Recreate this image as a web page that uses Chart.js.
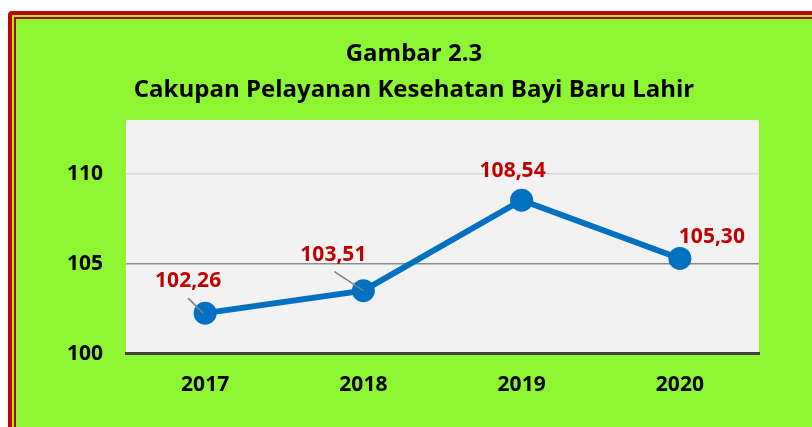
<!DOCTYPE html>
<html>
<head>
<meta charset="utf-8">
<script src="https://cdn.jsdelivr.net/npm/chart.js@4.4.1/dist/chart.umd.min.js"></script>
<style>
  html, body { margin: 0; padding: 0; background: #fff; overflow: hidden; width: 812px; height: 427px; }
  #frame {
    position: absolute; left: 8px; top: 11px; width: 900px; height: 500px;
    border: 4px solid #c00000; border-radius: 4px; background: #8df531;
  }
  #frame-inner {
    position: absolute; left: 2px; top: 2px; right: 2px; bottom: 2px;
    border: 2px solid #c00000;
  }
  #wrap { position: absolute; left: 0; top: 0; width: 812px; height: 427px; }
</style>
</head>
<body>
<div id="frame"><div id="frame-inner"></div></div>
<div id="wrap"><canvas id="chart-canvas"></canvas></div>
<script>
let years = ["2017", "2018", "2019", "2020"];
let coverage = [102.26, 103.51, 108.54, 105.30];
let valueLabels = ["102,26", "103,51", "108,54", "105,30"];
let titleLines = ["Gambar 2.3", "Cakupan Pelayanan Kesehatan Bayi Baru Lahir"];

const FONT = "'Open Sans', 'DejaVu Sans', sans-serif";

// label placement around each point
const labelPos = [
    { dx: -17, dy: -32, leader: [-17, -15, -2, 0] },
    { dx: -30, dy: -36, leader: [-29, -19, 0, 0] },
    { dx: -9, dy: -29 },
    { dx: 32, dy: -21 },
];

const plotBg = {
    id: "plotBg",
    beforeDraw(chart) {
        const { ctx, chartArea: a } = chart;
        ctx.save();
        ctx.fillStyle = "#f2f2f2";
        ctx.fillRect(a.left, a.top, a.right - a.left, a.bottom - a.top);
        ctx.restore();
    },
};

// title is centred on the whole figure, not on the canvas box, so draw it here
const figTitle = {
    id: "figTitle",
    afterDraw(chart) {
        const ctx = chart.ctx;
        ctx.save();
        ctx.fillStyle = "#000";
        ctx.font = "bold 24px " + FONT;
        ctx.textAlign = "center";
        ctx.textBaseline = "middle";
        titleLines.forEach((t, i) => ctx.fillText(t, 414, 54 + i * 36));
        ctx.restore();
    },
};

const valueTags = {
    id: "valueTags",
    afterDatasetsDraw(chart) {
        const ctx = chart.ctx;
        const meta = chart.getDatasetMeta(0);
        ctx.save();
        meta.data.forEach((pt, i) => {
            const p = labelPos[i];
            if (p.leader) {
                ctx.strokeStyle = "#7f7f7f";
                ctx.lineWidth = 1.5;
                ctx.beginPath();
                ctx.moveTo(pt.x + p.leader[0], pt.y + p.leader[1]);
                ctx.lineTo(pt.x + p.leader[2], pt.y + p.leader[3]);
                ctx.stroke();
            }
            ctx.fillStyle = "#c00000";
            ctx.font = "bold 21px " + FONT;
            ctx.textAlign = "center";
            ctx.textBaseline = "middle";
            ctx.fillText(valueLabels[i], pt.x + p.dx, pt.y + p.dy);
        });
        ctx.restore();
    },
};

new Chart("chart-canvas", {
    type: "line",
    data: {
        labels: years,
        datasets: [{
            data: coverage,
            borderColor: "#0070c0",
            backgroundColor: "#0070c0",
            borderWidth: 6,
            pointRadius: 11.5,
            pointHoverRadius: 11.5,
            pointBorderWidth: 0,
            tension: 0,
        }],
    },
    options: {
        responsive: true,
        maintainAspectRatio: false,
        animation: false,
        layout: { padding: { left: 0, right: 53, top: 120, bottom: 10 } },
        plugins: {
            legend: { display: false },
            tooltip: { enabled: false },
            title: { display: false },
        },
        scales: {
            x: {
                offset: true,
                grid: { display: false, drawTicks: false },
                border: { display: true, color: "#404040", width: 3 },
                ticks: {
                    color: "#000",
                    padding: 19,
                    font: { family: FONT, size: 21, weight: "bold" },
                },
            },
            y: {
                min: 100,
                max: 113,
                afterBuildTicks(scale) {
                    scale.ticks = scale.ticks.filter(t => t.value % 5 === 0);
                },
                afterFit(scale) { scale.width = 126; },
                border: { display: false },
                grid: {
                    drawTicks: false,
                    lineWidth: 1.5,
                    color: ctx => {
                        if (!ctx.tick) return "transparent";
                        if (ctx.tick.value === 105) return "#8c8c8c";
                        if (ctx.tick.value === 110) return "#d9d9d9";
                        return "transparent";
                    },
                },
                ticks: {
                    stepSize: 5,
                    padding: 23,
                    color: "#000",
                    font: { family: FONT, size: 21, weight: "bold" },
                },
            },
        },
    },
    plugins: [plotBg, valueTags, figTitle],
});
</script>
</body>
</html>
